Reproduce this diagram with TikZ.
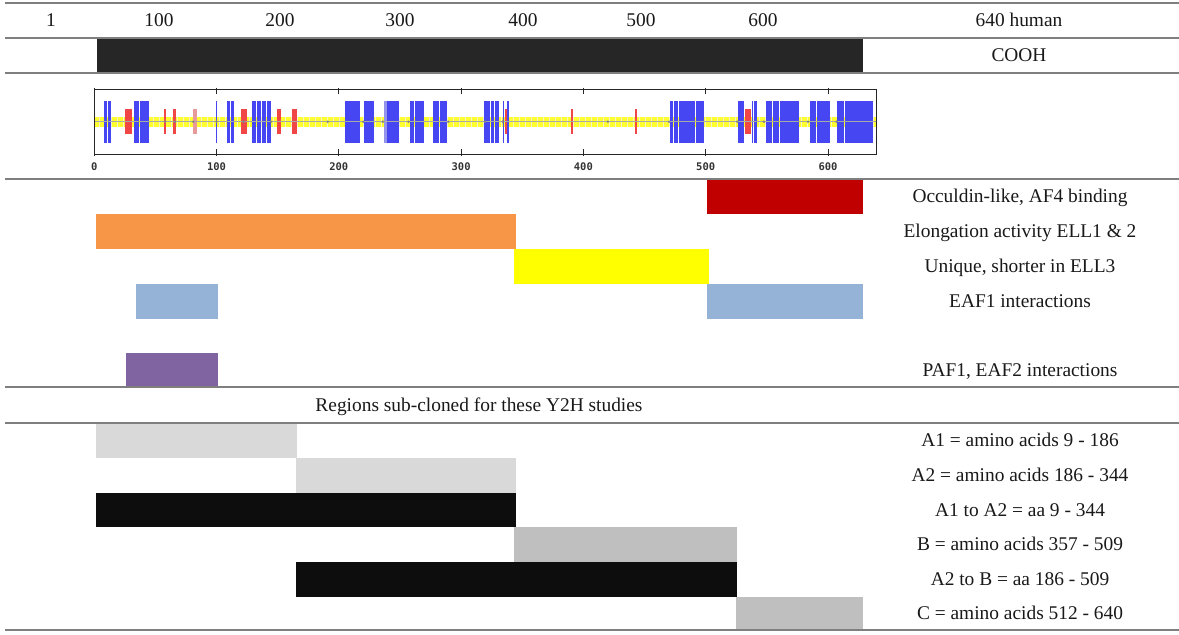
\documentclass[tikz,border=0pt]{standalone}
\usepackage{fontspec}
\setmainfont{Liberation Serif}
\newfontfamily\plotmono{DejaVu Sans Mono}
\definecolor{rulegray}{HTML}{7F7F7F}
\definecolor{coohc}{HTML}{262626}
\definecolor{occc}{HTML}{C00000}
\definecolor{orangec}{HTML}{F79646}
\definecolor{yellowc}{HTML}{FFFF00}
\definecolor{lbluec}{HTML}{95B3D7}
\definecolor{purplec}{HTML}{8064A2}
\definecolor{lgrayc}{HTML}{D9D9D9}
\definecolor{mgrayc}{HTML}{BFBFBF}
\definecolor{blackc}{HTML}{0D0D0D}
\definecolor{pblue}{HTML}{4646F2}
\definecolor{pbluelight}{HTML}{9494EA}
\definecolor{pred}{HTML}{F04646}
\definecolor{ppink}{HTML}{E89A9A}
\definecolor{pyellow}{HTML}{FFFF30}
\definecolor{ppale}{HTML}{F4F4C8}
\definecolor{pline}{HTML}{A8A8A8}
\tikzset{
  rule/.style={draw=rulegray, line width=1.6pt},
  lbl/.style={font=\fontsize{19.4}{22}\selectfont, inner sep=0pt, text height=12.8pt, text depth=0pt, anchor=center, text=black!90},
  ticklbl/.style={font=\plotmono\bfseries\fontsize{10.5}{12}\selectfont, inner sep=0pt, text=black!80},
}
\newcommand\bluebar[2]{\fill[pblue] (#1,100.7) rectangle (#2,142.7);}
\newcommand\lbluebar[2]{\fill[pbluelight] (#1,100.7) rectangle (#2,142.7);}
\newcommand\redbar[2]{\fill[pred] (#1,109.3) rectangle (#2,134);}
\newcommand\pinkbar[2]{\fill[ppink] (#1,109.3) rectangle (#2,134);}
\begin{document}
\begin{tikzpicture}[x=1pt,y=-1pt]
\useasboundingbox (0,0) rectangle (1179,635);
\fill[white] (0,0) rectangle (1179,635);

% ---- header row
\node[lbl] (h1) at (51,20) {1};
\node[lbl] (h100) at (159,20) {100};
\node[lbl] (h200) at (280,20) {200};
\node[lbl] (h300) at (400,20) {300};
\node[lbl] (h400) at (523,20) {400};
\node[lbl] (h500) at (641,20) {500};
\node[lbl] (h600) at (763,20) {600};
\node[lbl] (h640) at (1019,20) {640 human};

% ---- COOH row
\fill[coohc] (96.5,38) rectangle (862.5,73);
\node[lbl] (cooh) at (1019,55.5) {COOH};

% ---- domain plot
\begin{scope}[shift={(94.2pt,0pt)}, x=1.223pt]
  \fill[ppale] (0,116.7) rectangle (640,126.7);
  \draw[pyellow, line width=10pt, dash pattern=on 4.6pt off 1.4pt] (0,121.7) -- (640,121.7);
  % blue segments
  \bluebar{8}{10.5}\bluebar{11.3}{13.5}
  \bluebar{32.5}{36.8}\bluebar{37.3}{40.6}\bluebar{41.1}{45}
  \bluebar{99.3}{100.7}
  \bluebar{108.8}{111.3}\bluebar{112}{114.3}
  \bluebar{129}{132.5}\bluebar{133}{136.7}\bluebar{137.2}{140.6}\bluebar{141.1}{144.3}
  \bluebar{205}{210.5}\bluebar{211}{217}
  \bluebar{220.6}{224.5}\bluebar{225}{229}
  \lbluebar{237}{239}\bluebar{239.4}{244}\bluebar{244.5}{249.5}
  \bluebar{258}{261.5}\bluebar{262}{266}\bluebar{266.5}{270}
  \bluebar{276.8}{282}\bluebar{282.6}{288.2}
  \bluebar{318.5}{320.8}\bluebar{321.4}{323.8}\bluebar{324.4}{326.8}\bluebar{327.4}{330.7}
  \bluebar{334}{335.4}\bluebar{337.6}{339}
  \bluebar{471}{473.5}\bluebar{474}{477}\bluebar{478}{484.5}\bluebar{485}{491.5}\bluebar{492}{499}
  \bluebar{526.5}{529.5}\bluebar{530}{531.5}\bluebar{537.5}{539}\bluebar{539.6}{541.7}
  \bluebar{549}{554.3}\bluebar{554.8}{560}\bluebar{560.5}{565.5}\bluebar{566}{571}\bluebar{571.5}{576}
  \bluebar{585}{590.5}\bluebar{591}{596.5}\bluebar{597}{602}
  \bluebar{607.6}{613}\bluebar{613.5}{619.5}\bluebar{620}{626}\bluebar{626.5}{631.5}\bluebar{632}{637}
  % red segments
  \redbar{25.5}{31}\redbar{57}{59}\redbar{64.5}{66.7}\pinkbar{81}{84.3}
  \redbar{120.3}{124.7}\redbar{149.5}{152.5}\redbar{161.5}{166}
  \redbar{335.8}{337.2}\redbar{389.9}{391.8}\redbar{442}{444}\redbar{532}{537}
  % centre line and dots
  \draw[pline, line width=0.8pt] (0,121.7) -- (640,121.7);
  \foreach \d in {58,66,81,100,122,144.5,191,220,236,257,289.5,319.6,334,420,470,525.7,547.6,583.6,607}
    {\fill[pline!80!black] (\d,121.7) circle[radius=1.4pt];}
  % frame, ticks and labels
  \draw[black!85, line width=0.9pt] (0,89) rectangle (640,154);
  \foreach \t in {0,100,...,600}{
    \draw[black!85, line width=1pt] (\t,87.5) -- (\t,94);
    \draw[black!85, line width=1pt] (\t,155.5) -- (\t,149);
    \node[ticklbl] (t\t) at (\t,167) {\t};
  }
\end{scope}

% ---- feature bars
\fill[occc] (706.9,179) rectangle (862.8,214);
\fill[orangec] (96.4,214) rectangle (515.5,249);
\fill[yellowc] (514,249) rectangle (708.8,284);
\fill[lbluec] (135.9,284) rectangle (218.1,318.5);
\fill[lbluec] (706.9,284) rectangle (862.8,318.5);
\fill[purplec] (126.3,352.7) rectangle (218.1,387);

\node[lbl] (occ) at (1020,196.5) {Occuldin-like, AF4 binding};
\node[lbl] (elo) at (1020,231.5) {Elongation activity ELL1 \& 2};
\node[lbl] (uni) at (1020,266.5) {Unique, shorter in ELL3};
\node[lbl] (eaf1) at (1020,301) {EAF1 interactions};
\node[lbl] (paf1) at (1020,370) {PAF1, EAF2 interactions};

\node[lbl] (reg) at (479,405) {Regions sub-cloned for these Y2H studies};

% ---- sub-cloned regions
\fill[lgrayc] (96.4,423) rectangle (297.4,457.5);
\fill[lgrayc] (295.8,457.5) rectangle (515.5,492.5);
\fill[blackc] (96.4,492.5) rectangle (515.5,527);
\fill[mgrayc] (514,527) rectangle (737.4,562);
\fill[blackc] (295.8,562) rectangle (737.4,597);
\fill[mgrayc] (736,597) rectangle (862.8,630);

\node[lbl] (a1) at (1020,440) {A1 = amino acids 9 - 186};
\node[lbl] (a2) at (1020,475) {A2 = amino acids 186 - 344};
\node[lbl] (a12) at (1020,510) {A1 to A2 = aa 9 - 344};
\node[lbl] (b) at (1020,544.5) {B = amino acids 357 - 509};
\node[lbl] (a2b) at (1020,579) {A2 to B = aa 186 - 509};
\node[lbl] (c) at (1020,613.5) {C = amino acids 512 - 640};

% ---- table rules
\draw[rule] (5,3) -- (1179,3);
\draw[rule] (5,38) -- (1179,38);
\draw[rule] (5,73) -- (1179,73);
\draw[rule] (5,179) -- (1179,179);
\draw[rule] (5,387) -- (1179,387);
\draw[rule] (5,423) -- (1179,423);
\draw[rule] (5,630) -- (1179,630);
\end{tikzpicture}
\end{document}
